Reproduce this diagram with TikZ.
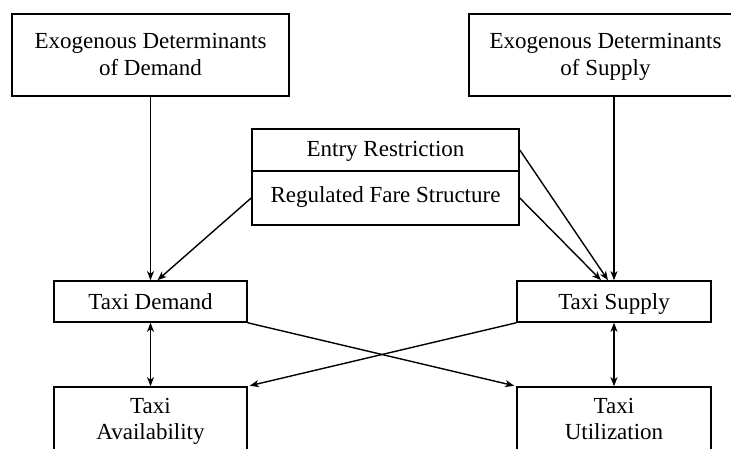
\documentclass[tikz,border=0pt]{standalone}
\usepackage{fontspec}
\setmainfont{Liberation Serif}
\usetikzlibrary{arrows.meta}
\begin{document}
\begin{tikzpicture}[x=1pt,y=-1pt,
  box/.style={draw, line width=1.6pt, inner sep=0pt},
  lbl/.style={anchor=base, inner sep=0pt, font=\fontsize{23}{27}\selectfont},
  tip/.tip={Stealth[length=9pt,width=7pt,inset=2.5pt]},
  arr/.style={line width=1.4pt, -tip},
  dbl/.style={line width=1.4pt, tip-tip}]
\useasboundingbox (0,0) rectangle (731,449);
\fill[white] (0,0) rectangle (731,449);
\clip (0,0) rectangle (731,449);

% boxes
\node[box, minimum width=277pt, minimum height=82pt] (exoD) at (150.5,55) {};
\node[box, minimum width=273pt, minimum height=82pt] (exoS) at (605.5,55) {};
\node[box, minimum width=267pt, minimum height=42pt] (entry) at (385.5,150) {};
\node[box, minimum width=267pt, minimum height=54pt] (fare) at (385.5,198) {};
\node[box, minimum width=193pt, minimum height=41pt] (td) at (150.5,301.5) {};
\node[box, minimum width=194pt, minimum height=41pt] (ts) at (614,301.5) {};
\node[box, minimum width=193pt, minimum height=83pt] (ta) at (150.5,428.5) {};
\node[box, minimum width=194pt, minimum height=83pt] (tu) at (614,428.5) {};

% labels
\node[lbl] at (150.5,49) {Exogenous Determinants};
\node[lbl] at (150.5,76) {of Demand};
\node[lbl] at (605.5,49) {Exogenous Determinants};
\node[lbl] at (605.5,76) {of Supply};
\node[lbl] at (385.5,157) {Entry Restriction};
\node[lbl] at (385.5,203) {Regulated Fare Structure};
\node[lbl] at (150.5,309) {Taxi Demand};
\node[lbl] at (614,309) {Taxi Supply};
\node[lbl] at (150.5,413) {Taxi};
\node[lbl] at (150.5,439) {Availability};
\node[lbl] at (614,413) {Taxi};
\node[lbl] at (614,439) {Utilization};

% connectors
\draw[arr] (exoD) -- (td);
\draw[arr] (fare.west) -- ([xshift=7pt]td.north);
\draw[arr] (entry.east) -- ([xshift=-6pt]ts.north);
\draw[arr] (fare.east) -- ([xshift=-13pt]ts.north);
\draw[arr] (exoS.south -| ts.north) -- (ts.north);
\draw[arr, shorten >=2pt] (td.south east) -- (tu.north west);
\draw[arr, shorten >=2pt] (ts.south west) -- (ta.north east);
\draw[dbl] (td) -- (ta);
\draw[dbl] (ts) -- (tu);
\end{tikzpicture}
\end{document}
